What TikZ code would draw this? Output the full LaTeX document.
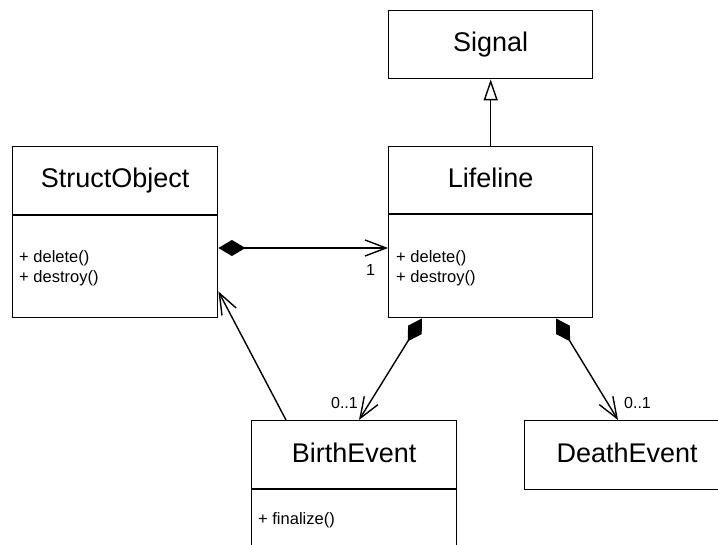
\documentclass[tikz,border=0pt]{standalone}
\usepackage{fontspec}
\setmainfont{Liberation Sans}
\usetikzlibrary{arrows.meta,calc}
\tikzset{
  classbox/.style={draw,line width=1.4pt,inner sep=0pt,anchor=north west,fill=white},
  divider/.style={line width=1.4pt},
  cname/.style={anchor=base,inner sep=0pt,font=\fontsize{27}{31}\selectfont},
  meth/.style={anchor=base west,inner sep=0pt,font=\fontsize{16.5}{20}\selectfont},
  mult/.style={inner sep=0pt,font=\fontsize{16}{19}\selectfont},
  gen/.style={line width=1.4pt,-{Triangle[open,length=21pt,width=14pt,fill=white]}},
  comp/.style={line width=1.4pt,{Diamond[length=27pt,width=16pt]}-{Straight Barb[length=21pt,width=16pt]}},
  nav/.style={line width=1.4pt,-{Straight Barb[length=21pt,width=16pt]}}
}
\begin{document}
\begin{tikzpicture}[x=1pt,y=-1pt]
\useasboundingbox (0,0) rectangle (718,545);
\fill[white] (0,0) rectangle (718,545);
\clip (0,0) rectangle (718,545);

% Signal
\node[classbox,minimum width=204pt,minimum height=68pt] (signal) at (388,10) {};
\node[cname] (signalname) at ([yshift=-42pt]signal.north) {Signal};

% Lifeline
\node[classbox,minimum width=204pt,minimum height=171pt] (lifeline) at (388,146) {};
\draw[divider] ([yshift=-68pt]lifeline.north west) -- ([yshift=-68pt]lifeline.north east);
\node[cname] (lifelinename) at ([yshift=-41.5pt]lifeline.north) {Lifeline};
\node[meth] (lifedel) at ([xshift=8pt,yshift=-117pt]lifeline.north west) {+ delete()};
\node[meth] (lifedes) at ([xshift=8pt,yshift=-137pt]lifeline.north west) {+ destroy()};

% StructObject
\node[classbox,minimum width=205pt,minimum height=171pt] (struct) at (12,146) {};
\draw[divider] ([yshift=-69pt]struct.north west) -- ([yshift=-69pt]struct.north east);
\node[cname] (structname) at ([yshift=-41.5pt]struct.north) {StructObject};
\node[meth] (structdel) at ([xshift=7pt,yshift=-117pt]struct.north west) {+ delete()};
\node[meth] (structdes) at ([xshift=7pt,yshift=-137pt]struct.north west) {+ destroy()};

% BirthEvent
\node[classbox,minimum width=205pt,minimum height=160pt] (birth) at (251,420) {};
\draw[divider] ([yshift=-69pt]birth.north west) -- ([yshift=-69pt]birth.north east);
\node[cname] (birthname) at ([yshift=-42pt]birth.north) {BirthEvent};
\node[meth] (birthfin) at ([xshift=7pt,yshift=-104pt]birth.north west) {+ finalize()};

% DeathEvent
\node[classbox,minimum width=205pt,minimum height=69pt] (death) at (524,420) {};
\node[cname] (deathname) at ([yshift=-42pt]death.north) {DeathEvent};

% connectors
\draw[gen] (lifeline.north) -- (signal.south);
\draw[comp] ([yshift=-102pt]struct.north east) -- ([yshift=-102pt]lifeline.north west);
\node[mult,anchor=base west] (m1) at (366,276) {1};
\draw[comp] ([xshift=34pt]lifeline.south west) -- ([xshift=108pt]birth.north west);
\node[mult,anchor=base east] (m2) at (358,409) {0..1};
\draw[comp] ([xshift=168pt]lifeline.south west) -- ([xshift=94pt]death.north west);
\node[mult,anchor=base west] (m3) at (624,409) {0..1};
\draw[nav] ([xshift=35pt]birth.north west) -- ([yshift=27pt]struct.south east);
\end{tikzpicture}
\end{document}
